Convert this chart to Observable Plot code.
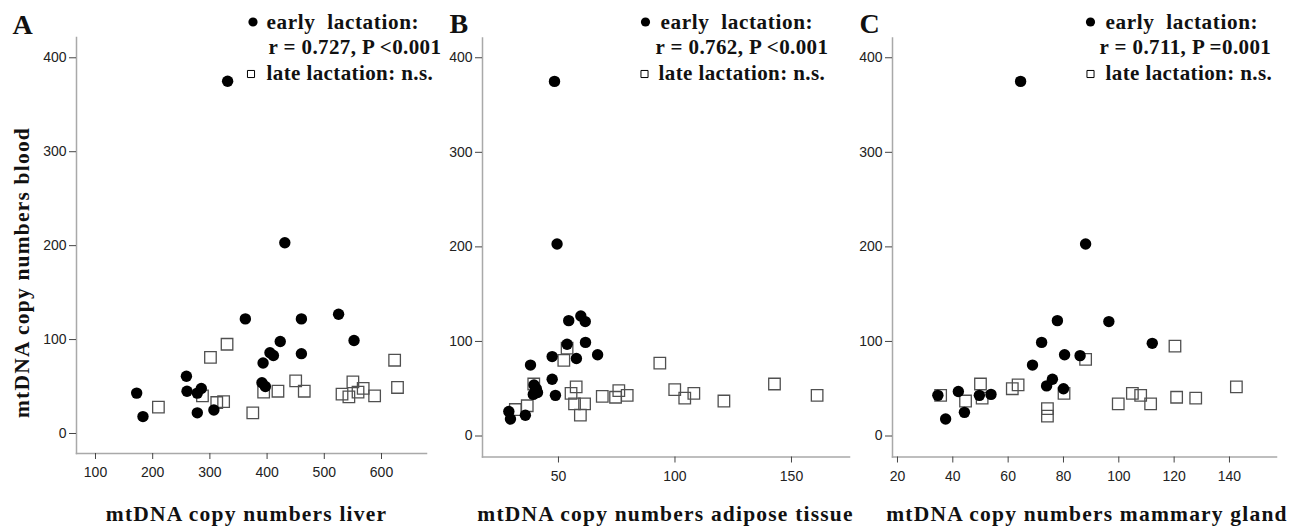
<!DOCTYPE html>
<html><head><meta charset="utf-8">
<script src="https://cdn.jsdelivr.net/npm/d3@7"></script>
<script src="https://cdn.jsdelivr.net/npm/@observablehq/plot@0.6"></script>
<style>
body{margin:0;background:#fff;}
#wrap{position:relative;width:1304px;height:527px;overflow:hidden;background:#fff;}
#wrap svg{position:absolute;top:0;overflow:visible;}
svg g[font-size="21.5"] text{letter-spacing:1.2px;}
svg g[font-size="21"] text{letter-spacing:0.4px;}
svg g[font-size="21.2"] text{letter-spacing:0.6px;word-spacing:6px;}
</style></head><body><div id="wrap"></div>
<script>
// ---- texts ----
const yTitle = "mtDNA copy numbers blood";
const panelLetters = ["A", "B", "C"];
const xTitles = ["mtDNA copy numbers liver", "mtDNA copy numbers adipose tissue", "mtDNA copy numbers mammary gland"];
const earlyStats = ["r = 0.727, P <0.001", "r = 0.762, P <0.001", "r = 0.711, P =0.001"];
const legendEarly = "early lactation:";
const legendLate = "late lactation: n.s.";

// ---- tick values ----
const yTicks = [0, 100, 200, 300, 400];
const xTicksLiver = [100, 200, 300, 400, 500, 600];
const xTicksAdipose = [50, 100, 150];
const xTicksMammary = [20, 40, 60, 80, 100, 120, 140];

// ---- Panel A: liver ----
const liverEarlyX = [172, 183, 259, 260, 278, 285, 278, 307, 362, 393, 391, 397, 405, 411, 423, 460, 460, 525, 552, 331, 431];
const liverEarlyY = [43, 18, 61, 45, 43, 48, 22, 25, 122, 75, 54, 50, 86, 83, 98, 122, 85, 127, 99, 375, 203];
const liverLateX = [210, 287, 301, 312, 324, 330, 375, 394, 419, 450, 465, 531, 543, 550, 559, 568, 588, 623, 628];
const liverLateY = [28, 40, 81, 33, 34, 95, 22, 44, 45, 56, 45, 42, 39, 55, 44, 48, 40, 78, 49];

// ---- Panel B: adipose tissue ----
const adiposeEarlyX = [28.7, 29.4, 35.8, 38, 39.5, 40.5, 39.2, 41, 40.2, 47.3, 47.3, 48.7, 53.7, 54.4, 57.7, 59.6, 61.5, 61.6, 66.8, 48.3, 49.4];
const adiposeEarlyY = [26, 18, 22, 75, 54, 50, 44, 46, 48, 60, 84, 43, 97, 122, 82, 127, 121, 99, 86, 375, 203];
const adiposeLateX = [31.5, 36.6, 39.4, 52.3, 53.7, 55.4, 57.6, 56.9, 61.2, 59.4, 68.8, 74.5, 75.9, 79.5, 93.5, 99.9, 104.2, 108.1, 121, 142.7, 161];
const adiposeLateY = [28, 32, 55, 80, 93, 45, 52, 34, 34, 22, 42, 41, 48, 43, 77, 49, 40, 45, 37, 55, 43];

// ---- Panel C: mammary gland ----
const mammaryEarlyX = [34.6, 37.4, 42, 44.2, 49.6, 53.8, 68.8, 72.1, 73.9, 76, 77.8, 80, 80.4, 86, 96.4, 112.1, 64.5, 88];
const mammaryEarlyY = [43, 18, 47, 25, 43, 44, 75, 99, 53, 60, 122, 50, 86, 85, 121, 98, 375, 203];
const mammaryLateX = [35.6, 44.6, 50, 50.6, 61.5, 63.6, 74.2, 74.2, 80.2, 88, 99.8, 104.9, 107.9, 111.5, 120.3, 120.9, 127.8, 142.5];
const mammaryLateY = [43, 37, 55, 40, 50, 54, 29, 21, 45, 81, 34, 45, 43, 34, 95, 41, 40, 52];

// ---- layout (page px) ----
const SERIF = "Liberation Serif, Times New Roman, serif";
const SANS = "Liberation Sans, Arial, sans-serif";
const H = 527;

const panels = [
  {left: 0, width: 440, ml: 76, mr: 14, mt: 37, mb: 74, xDomain: [66.8, 678.7], yDomain: [-21.3, 421.6],
   xTicks: xTicksLiver, ex: liverEarlyX, ey: liverEarlyY, lx: liverLateX, ly: liverLateY,
   letter: [12, 25], xt: [246, 514], yt: [22, 272],
   bullet: [252.5, 21.5], l1: [266, 22], l2: [268, 47], sq: [250.5, 73.5], l3: [266, 73]},
  {left: 430, width: 435, ml: 52, mr: 16, mt: 37.5, mb: 70.5, xDomain: [17.4, 174.9], yDomain: [-22.2, 420.9],
   xTicks: xTicksAdipose, ex: adiposeEarlyX, ey: adiposeEarlyY, lx: adiposeLateX, ly: adiposeLateY,
   letter: [449, 24], xt: [665, 514],
   bullet: [645, 21.5], l1: [660, 22], l2: [655, 47], sq: [644, 73.5], l3: [658, 73]},
  {left: 850, width: 454, ml: 42, mr: 28, mt: 37.5, mb: 70.5, xDomain: [18.2, 157], yDomain: [-22.2, 420.9],
   xTicks: xTicksMammary, ex: mammaryEarlyX, ey: mammaryEarlyY, lx: mammaryLateX, ly: mammaryLateY,
   letter: [859, 24], xt: [1086.5, 514],
   bullet: [1090, 21.5], l1: [1105, 22], l2: [1099, 47], sq: [1090, 73.5], l3: [1105, 73]}
];

function at(p, abs) {
  return {frameAnchor: "top-left", dx: abs[0] - p.left - p.ml, dy: abs[1] - p.mt};
}

const wrap = document.getElementById("wrap");
panels.forEach((p, i) => {
  const early = p.ex.map((x, j) => ({x, y: p.ey[j]}));
  const late = p.lx.map((x, j) => ({x, y: p.ly[j]}));
  const serifText = {fontFamily: SERIF, fontWeight: "bold", fill: "#111", text: d => d, lineAnchor: "middle"};
  const marks = [
    Plot.frame({anchor: "left", stroke: "#a9a9a9", strokeWidth: 1.5}),
    Plot.frame({anchor: "bottom", stroke: "#a9a9a9", strokeWidth: 1.5}),
    Plot.axisX(p.xTicks, {tickSize: 6, tickPadding: 8, fontSize: 14, fontFamily: SANS, stroke: "#444", fill: "#222", label: null}),
    Plot.axisY(yTicks, {tickSize: 7, tickPadding: 3, fontSize: 14, fontFamily: SANS, stroke: "#444", fill: "#222", label: null}),
    Plot.dot(late, {x: "x", y: "y", symbol: "square", r: 6.5, stroke: "#505050", strokeWidth: 1.3, fill: "none"}),
    Plot.dot(early, {x: "x", y: "y", r: 5.7, fill: "#000", stroke: "none"}),
    Plot.text([panelLetters[i]], {...serifText, ...at(p, p.letter), fontSize: 28, textAnchor: "start"}),
    Plot.text([xTitles[i]], {...serifText, ...at(p, p.xt), fontSize: 21.5, textAnchor: "middle"}),
    Plot.dot([0], {...at(p, p.bullet), r: 4.6, fill: "#000"}),
    Plot.text([legendEarly], {...serifText, ...at(p, p.l1), fontSize: 21.2, textAnchor: "start"}),
    Plot.text([earlyStats[i]], {...serifText, ...at(p, p.l2), fontSize: 21, textAnchor: "start"}),
    Plot.dot([0], {...at(p, p.sq), symbol: "square", r: 4, stroke: "#000", strokeWidth: 1, fill: "none"}),
    Plot.text([legendLate], {...serifText, ...at(p, p.l3), fontSize: 21, textAnchor: "start"})
  ];
  if (p.yt) {
    marks.push(Plot.text([yTitle], {...serifText, ...at(p, p.yt), fontSize: 21.5, textAnchor: "middle", rotate: -90}));
  }
  const svg = Plot.plot({
    width: p.width, height: H,
    marginLeft: p.ml, marginRight: p.mr, marginTop: p.mt, marginBottom: p.mb,
    x: {domain: p.xDomain, axis: null},
    y: {domain: p.yDomain, axis: null},
    style: {background: "transparent", overflow: "visible", maxWidth: "none"},
    marks
  });
  svg.style.left = p.left + "px";
  wrap.appendChild(svg);
});
</script></body></html>
